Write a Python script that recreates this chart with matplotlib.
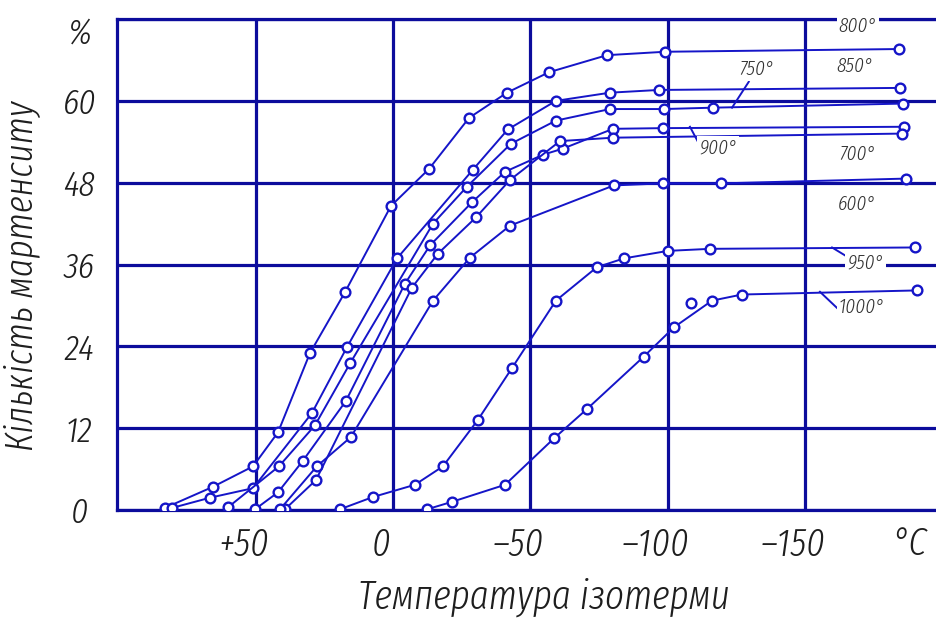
"""Martensite amount vs. isothermal temperature for several austenitizing temperatures."""

import matplotlib
matplotlib.use("Agg")
import matplotlib.pyplot as plt
from matplotlib import font_manager, transforms

# temperature of isotherm (deg C) and martensite amount (%) per curve
t_800 = [83, 65.5, 50.9, 41.8, 30.2, 17.5, 0.7, -13.1, -27.7, -41.5, -56.8, -77.9, -99.0, -184.1]
p_800 = [0.3, 3.4, 6.4, 11.4, 23.0, 31.9, 44.6, 50.0, 57.5, 61.2, 64.2, 66.7, 67.2, 67.6]

t_850 = [80.4, 66.6, 50.9, 29.5, 16.7, -1.5, -29.1, -41.8, -59.3, -79.0, -96.8, -184.5]
p_850 = [0.3, 1.8, 3.2, 14.2, 23.9, 36.9, 49.9, 55.8, 60.0, 61.2, 61.6, 61.9]

t_750 = [60.0, 41.5, 28.4, 15.6, -14.6, -26.9, -42.9, -59.3, -79.0, -98.6, -116.4, -185.6]
p_750 = [0.4, 6.4, 12.4, 21.5, 42.0, 47.4, 53.7, 57.1, 58.8, 58.8, 59.0, 59.6]

t_900 = [50.2, 41.8, 32.8, 17.1, -4.4, -13.5, -28.7, -40.8, -54.6, -61.9, -80.1, -98.3, -186.0]
p_900 = [0.1, 2.6, 7.2, 16.0, 33.2, 38.8, 45.1, 49.6, 52.1, 53.0, 55.9, 56.0, 56.2]

t_700 = [39.3, 28.0, -6.9, -16.4, -30.2, -42.6, -60.8, -80.1, -185.2]
p_700 = [0.1, 4.4, 32.6, 37.6, 42.9, 48.4, 54.1, 54.6, 55.2]

t_600 = [41.1, 27.7, 15.3, -14.6, -28.0, -42.6, -80.4, -98.3, -119.4, -186.7]
p_600 = [0.1, 6.4, 10.7, 30.7, 37.0, 41.7, 47.6, 47.9, 47.9, 48.6]

t_950 = [19.3, 7.3, -8.0, -18.2, -30.9, -43.3, -59.3, -74.2, -84.1, -100.1, -115.4, -190.0]
p_950 = [0.1, 1.9, 3.7, 6.4, 13.2, 20.8, 30.7, 35.6, 36.9, 38.0, 38.3, 38.5]

t_1000 = [-12.4, -21.5, -40.8, -58.6, -70.6, -91.3, -102.3, -116.1, -127.0, -190.7]
p_1000 = [0.1, 1.2, 3.7, 10.5, 14.8, 22.5, 26.8, 30.7, 31.6, 32.2]

# stray measurement near the 1000 curve
t_1000_extra = [-108.4]
p_1000_extra = [30.3]

x_ticks = [50, 0, -50, -100, -150]
x_tick_labels = ["+50", "0", "–50", "–100", "–150"]
unit_pos = -188
y_ticks = [0, 12, 24, 36, 48, 60, 72]
y_tick_labels = ["0", "12", "24", "36", "48", "60", ""]

GRID = "#0c0c9c"
LINE = "#1515c8"
TEXT = "#1e1e1e"


def pick_font():
    """Look for a narrow, light, italic face to mimic drafting lettering."""
    best, best_score = None, None
    for f in font_manager.fontManager.ttflist:
        narrow = ("Condensed" in f.name or "Narrow" in f.name
                  or f.stretch in ("condensed", "semi-condensed", "extra-condensed")
                  or "ondensed" in f.fname or "Narrow" in f.fname)
        if not narrow or not f.fname.lower().endswith((".ttf", ".otf")):
            continue
        italic = f.style in ("italic", "oblique")
        try:
            w = int(f.weight)
        except (TypeError, ValueError):
            w = 400
        score = (0 if italic else 1, abs(w - 300),
                 0 if "xtra" in f.fname or "xtra" in f.name else 1)
        if best_score is None or score < best_score:
            best, best_score = f, score
    if best is None:
        return lambda size: font_manager.FontProperties(
            family="DejaVu Sans", style="oblique", size=size)
    return lambda size: font_manager.FontProperties(fname=best.fname, size=size)


fp = pick_font()

fig = plt.figure(figsize=(9.37, 6.26), dpi=100)
ax = fig.add_axes([0.1249, 0.1853, 0.8751, 0.7843])

curves = [
    (t_800, p_800), (t_850, p_850), (t_750, p_750), (t_900, p_900),
    (t_700, p_700), (t_600, p_600), (t_950, p_950), (t_1000, p_1000),
]
for t, p in curves:
    ax.plot(t, p, color=LINE, lw=1.4, marker="o", ms=7, mfc="white",
            mec=LINE, mew=1.7, zorder=3)
ax.plot(t_1000_extra, p_1000_extra, ls="none", marker="o", ms=7, mfc="white",
        mec=LINE, mew=1.7, zorder=3)

ax.set_xlim(100.4, -198)
ax.set_ylim(0, 72)

ax.set_xticks(x_ticks)
ax.set_xticklabels(x_tick_labels, color=TEXT)
ax.set_yticks(y_ticks)
ax.set_yticklabels(y_tick_labels, color=TEXT, ha="center")
ax.tick_params(axis="x", length=0, pad=12)
ax.tick_params(axis="y", length=0, pad=27)
shift = transforms.ScaledTranslation(-12 / 100, 0, fig.dpi_scale_trans)
for lab in ax.get_xticklabels():
    lab.set_fontproperties(fp(28))
    lab.set_transform(lab.get_transform() + shift)
for lab in ax.get_yticklabels():
    lab.set_fontproperties(fp(26))

# unit marks: "°C" after the last x tick, "%" at the top of the y scale
ax.text(unit_pos, -2.3, "°C", fontproperties=fp(28), color=TEXT,
        ha="center", va="top", clip_on=False)
ax.text(-0.045, 69.8, "%", transform=ax.get_yaxis_transform(),
        fontproperties=fp(26), color=TEXT, ha="center", va="center", clip_on=False)

ax.grid(True, color=GRID, lw=2.3, zorder=1)
ax.set_axisbelow(True)
for side in ("left", "bottom", "top"):
    ax.spines[side].set_color(GRID)
    ax.spines[side].set_linewidth(2.3)
ax.spines["right"].set_visible(False)

fig.text(544 / 937, 1 - 597 / 626, "Температура ізотерми", fontproperties=fp(29),
         color=TEXT, ha="center", va="center")
fig.text(22 / 937, 1 - 276 / 626, "Кількість мартенситу", fontproperties=fp(28),
         color=TEXT, ha="center", va="center", rotation=90)

# curve labels with leader lines
box = dict(facecolor="white", edgecolor="none", pad=1.5)
labels = [
    ("800°", -169.2, 71.0), ("850°", -168.1, 65.1), ("750°", -132.5, 64.7),
    ("900°", -118.3, 53.1), ("700°", -169.2, 52.2), ("600°", -168.8, 44.9),
    ("950°", -172.1, 36.3), ("1000°", -170.7, 29.7),
]
for txt, x, y in labels:
    ax.text(x, y, txt, fontproperties=fp(15), color="#333333", ha="center",
            va="center", bbox=box, zorder=6, clip_on=False)

leaders = [
    ((-129.5, 62.8), (-123.4, 59.0)),
    ((-108.1, 56.2), (-111.0, 54.0)),
    ((-159.8, 38.5), (-165.9, 37.0)),
    ((-155.4, 32.0), (-163.8, 28.8)),
]
for (x0, y0), (x1, y1) in leaders:
    ax.plot([x0, x1], [y0, y1], color=LINE, lw=1.4, zorder=4)

fig.savefig("out.png", dpi=100, facecolor="white")
